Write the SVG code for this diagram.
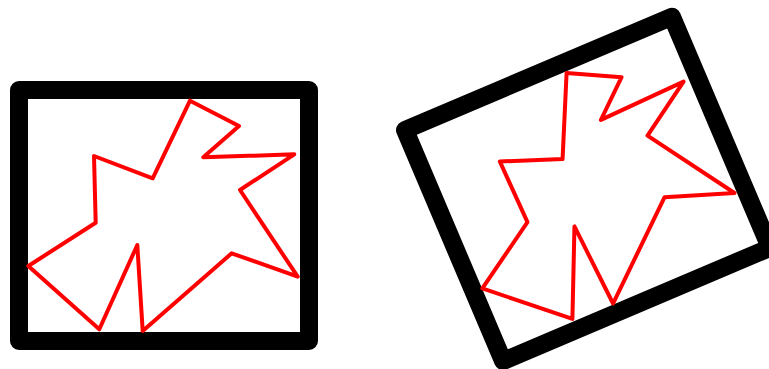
<svg xmlns="http://www.w3.org/2000/svg" width="769" height="369" viewBox="0 0 769 369">
<defs>
<g id="shape">
<path d="M19,90 H309 V341 H19 Z" fill="none" stroke="#000000" stroke-width="18" stroke-linejoin="round"/>
<path d="M28.3,266 L95.7,222.7 L94,156 L152.7,178.3 L190,100.7 L239,126 L203.3,157.3 L294.3,154.3 L240,190 L297.7,276.7 L231.7,253.3 L142.7,331 L137.3,245 L99.3,329.3 Z" fill="none" stroke="#ff0000" stroke-width="4" stroke-linejoin="round"/>
</g>
</defs>
<rect width="769" height="369" fill="#ffffff"/>
<g id="left">
<use href="#shape"/>
</g>
<g id="right" transform="translate(405,130) rotate(-23) translate(-19,-90)">
<use href="#shape"/>
</g>
</svg>
